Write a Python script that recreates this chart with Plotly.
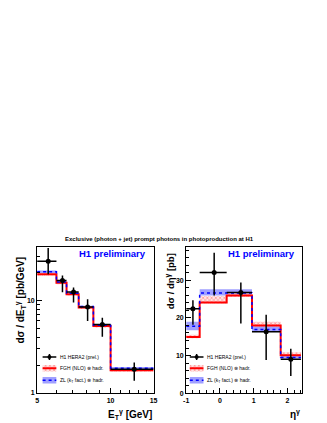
import plotly.graph_objects as go

# ---------------- data ----------------
# Left panel: E_T^gamma
et_edges = [5, 6, 6.6, 7.4, 8.5, 10, 15]
et_x = [5.55, 6.35, 7.05, 8.05, 9.25, 12.5]
et_data = [26.7, 16.5, 12.4, 8.5, 5.5, 1.8]
et_err_up = [10.3, 2.2, 1.4, 1.8, 1.0, 0.33]
et_err_dn = [7.5, 4.2, 2.9, 2.5, 1.45, 0.45]
et_fgh = [19.2, 15.6, 11.7, 8.4, 5.3, 1.75]
et_fgh_lo = [18.5, 15.0, 11.3, 8.1, 5.1, 1.69]
et_fgh_hi = [19.8, 16.2, 12.1, 8.7, 5.5, 1.81]
et_zl = [20.5, 15.9, 12.0, 8.6, 5.4, 1.85]
et_zl_lo = [19.9, 15.5, 11.7, 8.4, 5.25, 1.80]
et_zl_hi = [21.2, 16.3, 12.3, 8.8, 5.55, 1.90]

# Right panel: eta^gamma
eta_edges = [-1, -0.6, 0.2, 0.95, 1.8, 2.4]
eta_x = [-0.8, -0.17, 0.62, 1.37, 2.1]
eta_data = [22.4, 32.0, 26.7, 16.3, 9.0]
eta_err_up = [2.3, 5.3, 2.7, 4.5, 2.8]
eta_err_dn = [4.2, 6.1, 8.2, 7.5, 4.4]
eta_fgh = [14.9, 24.1, 25.9, 18.0, 10.1]
eta_fgh_lo = [14.6, 23.8, 25.5, 17.7, 9.8]
eta_fgh_hi = [15.5, 25.7, 26.5, 19.0, 10.9]
eta_zl = [17.8, 26.6, 26.6, 16.9, 9.5]
eta_zl_lo = [16.7, 25.9, 26.1, 16.4, 9.2]
eta_zl_hi = [19.0, 27.6, 27.6, 17.8, 10.1]

title_text = "Exclusive (photon + jet) prompt photons in photoproduction at H1"
legend_labels = ["H1 HERA2 (prel.)", "FGH (NLO) \u2297 hadr.", "ZL (k<sub>T</sub> fact.) \u2297 hadr."]

# ---------------- layout constants ----------------
W, H = 327, 423
FONT = "Liberation Sans"
RED = "#ff0000"
BLUE = "#0000ff"
BLUEFILL = "#a0a0ff"


def px_x(p):
    return p / W


def px_y(p):
    return 1 - p / H


LX = [px_x(26.7), px_x(145.7)]
RX = [px_x(179), px_x(297.3)]
YD = [px_y(388), px_y(240.7)]

fig = go.Figure()


def rects(edges, lo, hi):
    xs, ys = [], []
    for i in range(len(lo)):
        xs += [edges[i], edges[i + 1], edges[i + 1], edges[i], edges[i], None]
        ys += [lo[i], lo[i], hi[i], hi[i], lo[i], None]
    return xs, ys


HATCH = dict(shape="x", fgcolor=RED, bgcolor="rgba(255,215,215,0.7)", size=3, solidity=0.3)


def add_panel(edges, xc, data, eup, edn, fgh, fgh_lo, fgh_hi, zl, zl_lo, zl_hi, xa, ya):
    bx, by = rects(edges, zl_lo, zl_hi)
    fig.add_trace(go.Scatter(x=bx, y=by, mode="lines", fill="toself", fillcolor=BLUEFILL,
                             line=dict(width=0), xaxis=xa, yaxis=ya, hoverinfo="skip"))
    bx, by = rects(edges, fgh_lo, fgh_hi)
    fig.add_trace(go.Scatter(x=bx, y=by, mode="lines", fill="toself", fillpattern=HATCH,
                             line=dict(width=0), xaxis=xa, yaxis=ya, hoverinfo="skip"))
    fig.add_trace(go.Scatter(x=edges, y=list(fgh) + [fgh[-1]], mode="lines", line_shape="hv",
                             line=dict(color=RED, width=2), xaxis=xa, yaxis=ya))
    fig.add_trace(go.Scatter(x=edges, y=list(zl) + [zl[-1]], mode="lines", line_shape="hv",
                             line=dict(color=BLUE, width=1.5, dash="dot"), xaxis=xa, yaxis=ya))
    ex_p = [edges[i + 1] - xc[i] for i in range(len(xc))]
    ex_m = [xc[i] - edges[i] for i in range(len(xc))]
    fig.add_trace(go.Scatter(x=xc, y=data, mode="markers",
                             marker=dict(color="black", size=5, symbol="circle"),
                             error_y=dict(type="data", symmetric=False, array=eup, arrayminus=edn,
                                          color="black", thickness=1.5, width=0),
                             error_x=dict(type="data", symmetric=False, array=ex_p, arrayminus=ex_m,
                                          color="black", thickness=1.5, width=0),
                             xaxis=xa, yaxis=ya))


add_panel(et_edges, et_x, et_data, et_err_up, et_err_dn, et_fgh, et_fgh_lo, et_fgh_hi,
          et_zl, et_zl_lo, et_zl_hi, "x", "y")
add_panel(eta_edges, eta_x, eta_data, eta_err_up, eta_err_dn, eta_fgh, eta_fgh_lo, eta_fgh_hi,
          eta_zl, eta_zl_lo, eta_zl_hi, "x2", "y2")


# ---------------- manual legends (overlay axes in [0,1]) ----------------
def add_legend(xa, ya, x0px, panel_left, panel_w):
    def fx(p):
        return (p - panel_left) / panel_w

    def fy(p):
        return (388 - p) / 147.3

    x0, x1 = fx(x0px), fx(x0px + 14)
    xm = (x0 + x1) / 2
    fig.add_trace(go.Scatter(x=[x0, x1], y=[fy(351.5)] * 2, mode="lines",
                             line=dict(color="black", width=1.5), xaxis=xa, yaxis=ya))
    fig.add_trace(go.Scatter(x=[xm, xm], y=[fy(348.5), fy(354.5)], mode="lines",
                             line=dict(color="black", width=1.5), xaxis=xa, yaxis=ya))
    fig.add_trace(go.Scatter(x=[xm], y=[fy(351.5)], mode="markers",
                             marker=dict(color="black", size=4), xaxis=xa, yaxis=ya))
    fig.add_trace(go.Scatter(x=[x0, x1, x1, x0, x0], y=[fy(366), fy(366), fy(359.6), fy(359.6), fy(366)],
                             mode="lines", fill="toself", fillpattern=HATCH,
                             line=dict(width=0), xaxis=xa, yaxis=ya))
    fig.add_trace(go.Scatter(x=[x0, x1], y=[fy(362.8)] * 2, mode="lines",
                             line=dict(color=RED, width=2), xaxis=xa, yaxis=ya))
    fig.add_trace(go.Scatter(x=[x0, x1, x1, x0, x0], y=[fy(378.3), fy(378.3), fy(371.7), fy(371.7), fy(378.3)],
                             mode="lines", fill="toself", fillcolor=BLUEFILL,
                             line=dict(width=0), xaxis=xa, yaxis=ya))
    fig.add_trace(go.Scatter(x=[x0, x1], y=[fy(375)] * 2, mode="lines",
                             line=dict(color=BLUE, width=1.5, dash="dot"), xaxis=xa, yaxis=ya))
    for lab, py in zip(legend_labels, [351.5, 362.8, 375]):
        fig.add_annotation(x=px_x(x0px + 16), y=px_y(py), xref="paper", yref="paper",
                           text=lab, showarrow=False, xanchor="left", yanchor="middle",
                           font=dict(family=FONT, size=5, color="black"))


add_legend("x3", "y3", 32.3, 26.7, 119.0)
add_legend("x4", "y4", 182.7, 179.0, 118.3)

axis_common = dict(showline=True, linecolor="black", linewidth=1, mirror=True,
                   ticks="inside", ticklen=5, tickcolor="black", showgrid=False, zeroline=False,
                   tickfont=dict(family=FONT, size=7, color="black", weight="bold"))

fig.update_layout(
    width=W, height=H, autosize=False,
    margin=dict(l=0, r=0, t=0, b=0),
    paper_bgcolor="white", plot_bgcolor="rgba(0,0,0,0)",
    showlegend=False,
    xaxis=dict(domain=LX, type="log", range=[0.699, 1.1761], anchor="y",
               tickvals=[5, 10, 15], ticktext=["5", "10", "15"],
               minor=dict(tickvals=[6, 7, 8, 9, 11, 12, 13, 14], ticks="inside", ticklen=3,
                          tickcolor="black", showgrid=False),
               **axis_common),
    yaxis=dict(domain=YD, type="log", range=[-0.005, 1.58], anchor="x",
               tickvals=[1, 10], ticktext=["1", "10"],
               minor=dict(tickvals=[2, 3, 4, 5, 6, 7, 8, 9, 20, 30], ticks="inside", ticklen=3,
                          tickcolor="black", showgrid=False),
               **axis_common),
    xaxis2=dict(domain=RX, range=[-1, 2.43], anchor="y2",
                tickvals=[-1, 0, 1, 2], ticktext=["-1", "0", "1", "2"],
                minor=dict(dtick=0.2, tick0=0, ticks="inside", ticklen=3, tickcolor="black", showgrid=False),
                **axis_common),
    yaxis2=dict(domain=YD, range=[0, 38.8], anchor="x2",
                tickvals=[0, 10, 20, 30], ticktext=["0", "10", "20", "30"],
                minor=dict(dtick=2, tick0=0, ticks="inside", ticklen=3, tickcolor="black", showgrid=False),
                **axis_common),
    xaxis3=dict(domain=LX, range=[0, 1], visible=False, anchor="y3", fixedrange=True),
    yaxis3=dict(domain=YD, range=[0, 1], visible=False, anchor="x3", fixedrange=True),
    xaxis4=dict(domain=RX, range=[0, 1], visible=False, anchor="y4", fixedrange=True),
    yaxis4=dict(domain=YD, range=[0, 1], visible=False, anchor="x4", fixedrange=True),
)

# ---------------- texts ----------------
fig.add_annotation(x=px_x(151.5), y=px_y(233), xref="paper", yref="paper", text="<b>" + title_text + "</b>",
                   showarrow=False, xanchor="center", yanchor="middle",
                   font=dict(family=FONT, size=6, color="black"))
for xc in [104, 256]:
    fig.add_annotation(x=px_x(xc), y=px_y(247.5), xref="paper", yref="paper", text="<b>H1 preliminary</b>",
                       showarrow=False, xanchor="center", yanchor="middle",
                       font=dict(family=FONT, size=9.5, color=BLUE))

fig.add_annotation(x=px_x(10), y=px_y(248), xref="paper", yref="paper",
                   text="<b>d\u03c3 / dE<sub>T</sub><sup>\u03b3</sup> [pb/GeV]</b>", textangle=-90,
                   showarrow=False, xanchor="center", yanchor="top",
                   font=dict(family=FONT, size=10, color="black"))
fig.add_annotation(x=px_x(162.5), y=px_y(245), xref="paper", yref="paper",
                   text="<b>d\u03c3 / d\u03b7<sup>\u03b3</sup> [pb]</b>", textangle=-90,
                   showarrow=False, xanchor="center", yanchor="top",
                   font=dict(family=FONT, size=9.5, color="black"))
fig.add_annotation(x=px_x(146), y=px_y(409), xref="paper", yref="paper",
                   text="<b>E<sub>T</sub><sup>\u03b3</sup> [GeV]</b>",
                   showarrow=False, xanchor="right", yanchor="middle",
                   font=dict(family=FONT, size=10, color="black"))
fig.add_annotation(x=px_x(297), y=px_y(409), xref="paper", yref="paper",
                   text="<b>\u03b7<sup>\u03b3</sup></b>",
                   showarrow=False, xanchor="right", yanchor="middle",
                   font=dict(family=FONT, size=10, color="black"))

fig.write_html("out.html")
